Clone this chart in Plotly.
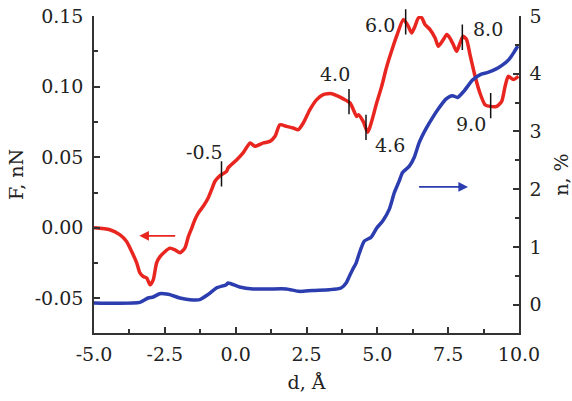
import numpy as np
import plotly.graph_objects as go

# Force F (nN) versus separation d (Å)
force_d = [-5.0, -4.44, -4.08, -3.85, -3.67, -3.49, -3.38, -3.26, -3.14, -3.02,
           -2.91, -2.79, -2.67, -2.49, -2.32, -2.14, -1.96, -1.79, -1.67, -1.55,
           -1.44, -1.32, -1.15, -0.97, -0.85, -0.73, -0.55, -0.32, -0.26, 0.04,
           0.27, 0.51, 0.68, 0.98, 1.21, 1.39, 1.56, 1.80, 2.03, 2.21,
           2.39, 2.62, 2.86, 3.09, 3.39, 3.57, 3.80, 4.04, 4.27, 4.33,
           4.50, 4.66, 4.98, 5.15, 5.33, 5.50, 5.68, 5.92, 6.09, 6.21,
           6.33, 6.45, 6.57, 6.68, 6.86, 7.04, 7.15, 7.33, 7.45, 7.56,
           7.68, 7.80, 7.92, 8.03, 8.15, 8.27, 8.45, 8.62, 8.80, 8.98,
           9.21, 9.39, 9.51, 9.62, 9.80, 9.98]
force_F = [0.000, -0.0014, -0.0050, -0.0097, -0.0168, -0.0250, -0.0319, -0.0345, -0.0355, -0.0404,
           -0.0369, -0.0248, -0.0204, -0.0168, -0.0144, -0.0156, -0.0177, -0.0142, -0.0062, -0.0002,
           0.0057, 0.0104, 0.0151, 0.0211, 0.0270, 0.0330, 0.0370, 0.0400, 0.0426, 0.0482,
           0.0532, 0.0601, 0.0577, 0.0601, 0.0612, 0.0648, 0.0730, 0.0718, 0.0707, 0.0695,
           0.0743, 0.0837, 0.0908, 0.0943, 0.0950, 0.0936, 0.0913, 0.0884, 0.0789, 0.0801,
           0.0754, 0.0677, 0.0887, 0.1000, 0.1140, 0.1250, 0.1357, 0.1475, 0.1428, 0.1380,
           0.1428, 0.1487, 0.1487, 0.1440, 0.1404, 0.1345, 0.1286, 0.1333, 0.1369, 0.1345,
           0.1298, 0.1250, 0.1310, 0.1357, 0.1333, 0.1227, 0.1073, 0.0955, 0.0872, 0.0860,
           0.0860, 0.0896, 0.1002, 0.1073, 0.1050, 0.1073]

# Fraction n (%) versus separation d (Å)
frac_d = [-5.0, -3.38, -3.09, -2.91, -2.68, -2.44, -2.32, -1.97, -1.62, -1.27,
          -0.98, -0.68, -0.33, -0.27, 0.14, 0.61, 1.20, 1.79, 2.25, 2.72,
          3.31, 3.72, 3.90, 4.01, 4.13, 4.25, 4.37, 4.54, 4.78, 4.98,
          5.19, 5.42, 5.60, 5.77, 5.89, 6.13, 6.30, 6.48, 6.71, 6.95,
          7.18, 7.42, 7.65, 7.83, 8.06, 8.36, 8.65, 8.88, 9.18, 9.41,
          9.65, 9.82, 9.96]
frac_n = [0.03, 0.04, 0.116, 0.134, 0.19, 0.186, 0.174, 0.116, 0.087, 0.087,
          0.174, 0.29, 0.347, 0.377, 0.307, 0.273, 0.273, 0.273, 0.231, 0.248,
          0.26, 0.29, 0.377, 0.49, 0.61, 0.72, 0.90, 1.10, 1.17, 1.33,
          1.45, 1.65, 1.94, 2.14, 2.29, 2.40, 2.55, 2.81, 3.04, 3.24,
          3.41, 3.56, 3.62, 3.59, 3.70, 3.89, 3.99, 4.02, 4.08, 4.15,
          4.25, 4.37, 4.48]

# Marked separations along the force curve
mark_d = [-0.5, 4.0, 4.6, 6.0, 8.0, 9.0]
mark_labels = ["-0.5", "4.0", "4.6", "6.0", "8.0", "9.0"]

x_ticks = [-5.0, -2.5, 0.0, 2.5, 5.0, 7.5, 10.0]
x_ticktext = ["-5.0", "-2.5", "0.0", "2.5", "5.0", "7.5", "10.0"]
yl_ticks = [-0.05, 0.00, 0.05, 0.10, 0.15]
yl_ticktext = ["-0.05", "0.00", "0.05", "0.10", "0.15"]
yr_ticks = [0, 1, 2, 3, 4, 5]

RED = "#e8261f"
BLUE = "#2b3daf"
AX = "#333333"
FONT = "DejaVu Serif"

fig = go.Figure()
fig.add_trace(go.Scatter(x=force_d, y=force_F, mode="lines",
                         line=dict(color=RED, width=3.5, shape="spline", smoothing=0.6),
                         yaxis="y"))
fig.add_trace(go.Scatter(x=frac_d, y=frac_n, mode="lines",
                         line=dict(color=BLUE, width=3.5, shape="spline", smoothing=0.6),
                         yaxis="y2"))

annotations = []
# label offsets (px) relative to each marker
label_shift = [(-17, 23), (-14, 28), (24, -17), (-26, -2), (26, 9), (-20, -18)]
half = 0.0095
for d, lab, (dx, dy) in zip(mark_d, mark_labels, label_shift):
    f = float(np.interp(d, force_d, force_F))
    annotations.append(dict(x=d, y=f + half, ax=d, ay=f - half,
                            xref="x", yref="y", axref="x", ayref="y",
                            text="", showarrow=True, arrowhead=0,
                            arrowwidth=1.5, arrowcolor="#111111",
                            standoff=0, startstandoff=0))
    annotations.append(dict(x=d, y=f, xref="x", yref="y", text=lab,
                            showarrow=False, xshift=dx, yshift=dy,
                            font=dict(family=FONT, size=19, color="#222222")))

# direction arrows pointing to each curve's axis
annotations.append(dict(x=-3.4, y=-0.0057, ax=-2.08, ay=-0.0057,
                        xref="x", yref="y", axref="x", ayref="y",
                        text="", showarrow=True, arrowhead=2, arrowsize=1.2,
                        arrowwidth=1.6, arrowcolor=RED))
annotations.append(dict(x=8.2, y=2.04, ax=6.42, ay=2.04,
                        xref="x", yref="y2", axref="x", ayref="y2",
                        text="", showarrow=True, arrowhead=2, arrowsize=1.2,
                        arrowwidth=1.6, arrowcolor=BLUE))

tickfont = dict(family=FONT, size=19, color="#222222")
titlefont = dict(family=FONT, size=19, color="#222222")

fig.update_layout(
    width=572, height=401,
    margin=dict(l=94, r=53, t=16, b=68),
    paper_bgcolor="white", plot_bgcolor="white",
    showlegend=False,
    annotations=annotations,
    xaxis=dict(range=[-5, 10], tickvals=x_ticks, ticktext=x_ticktext,
               ticks="inside", ticklen=6, tickwidth=1.5, tickcolor=AX,
               minor=dict(tickvals=[-3.75, -1.25, 1.25, 3.75, 6.25, 8.75],
                          ticks="inside", ticklen=4, tickwidth=1.5, tickcolor=AX),
               showline=True, linewidth=1.5, linecolor=AX, mirror=False,
               showgrid=False, zeroline=False, tickfont=tickfont,
               ticklabelstandoff=3, automargin=False,
               title=dict(text="d, Å", font=titlefont, standoff=12)),
    yaxis=dict(range=[-0.0745, 0.15], tickvals=yl_ticks, ticktext=yl_ticktext,
               ticks="inside", ticklen=6, tickwidth=1.5, tickcolor=AX,
               minor=dict(tickvals=[-0.025, 0.025, 0.075, 0.125],
                          ticks="inside", ticklen=4, tickwidth=1.5, tickcolor=AX),
               showline=True, linewidth=1.5, linecolor=AX,
               showgrid=False, zeroline=False, tickfont=tickfont,
               ticklabelstandoff=5, automargin=False,
               title=dict(text="F, nN", font=titlefont, standoff=6)),
    yaxis2=dict(range=[-0.49, 5.0], tickvals=yr_ticks, overlaying="y", side="right",
                ticks="inside", ticklen=6, tickwidth=1.5, tickcolor=AX,
                minor=dict(tickvals=[0.5, 1.5, 2.5, 3.5, 4.5],
                           ticks="inside", ticklen=4, tickwidth=1.5, tickcolor=AX),
                showline=True, linewidth=1.5, linecolor=AX,
                showgrid=False, zeroline=False, tickfont=tickfont,
                ticklabelstandoff=5, automargin=False,
                title=dict(text="n, %", font=titlefont, standoff=16)),
)

fig.write_html("out.html")
